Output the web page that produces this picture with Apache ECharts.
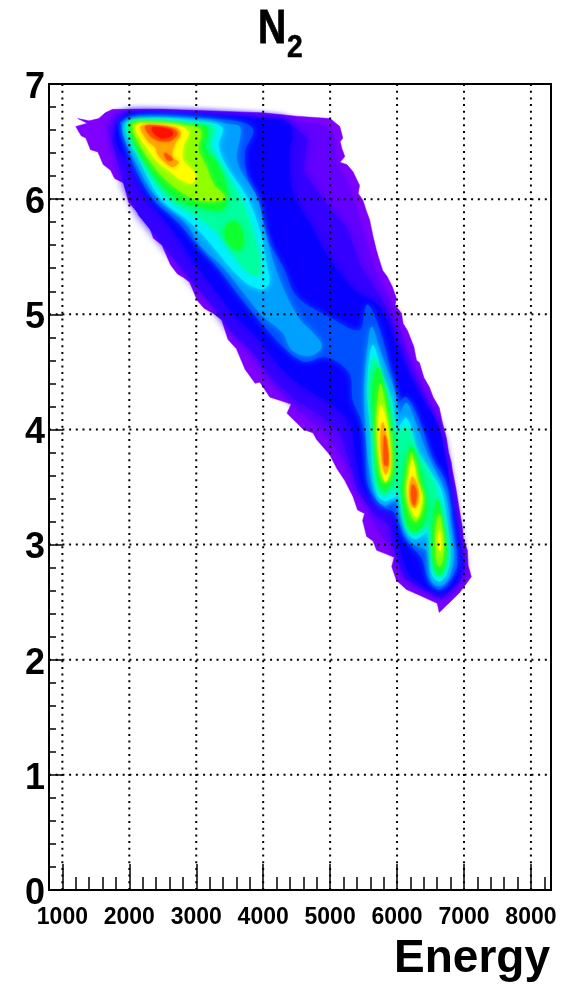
<!DOCTYPE html>
<html><head><meta charset="utf-8">
<style>html,body{margin:0;padding:0;background:#fff}#c{width:570px;height:985px}</style>
<script src="https://cdn.jsdelivr.net/npm/echarts@6/dist/echarts.min.js"></script>
</head><body><div id="c"></div>
<script>
// Tick values
const xMajorTicks=[1000,2000,3000,4000,5000,6000,7000,8000];
const xMinorTicks=[1200,1400,1600,1800,2200,2400,2600,2800,3200,3400,3600,3800,4200,4400,4600,4800,5200,5400,5600,5800,6200,6400,6600,6800,7200,7400,7600,7800,8200];
const yGridValues=[1,2,3,4,5,6];
// Iso-density contours of the histogram, [Energy, N2] outlines, low to high density
const level0=[[[1230,6.70],[1400,6.68],[1543,6.70],[1640,6.75],[1751,6.78],[1990,6.78],[2500,6.78],[3000,6.77],[3500,6.76],[3983,6.75],[4500,6.72],[5000,6.70],[5145,6.63],[5190,6.53],[5150,6.50],[5175,6.44],[5220,6.37],[5145,6.32],[5250,6.30],[5340,6.24],[5440,6.12],[5420,6.05],[5490,5.99],[5540,5.90],[5590,5.82],[5640,5.68],[5690,5.56],[5720,5.50],[5785,5.38],[5850,5.33],[5930,5.24],[5990,5.14],[5970,5.08],[6065,5.01],[6090,4.92],[6155,4.86],[6250,4.72],[6290,4.60],[6335,4.58],[6400,4.45],[6480,4.37],[6540,4.28],[6630,4.19],[6680,4.05],[6735,3.93],[6770,3.80],[6810,3.71],[6825,3.65],[6880,3.48],[6930,3.30],[6975,3.15],[6990,3.05],[7050,2.95],[7060,2.82],[7110,2.72],[6930,2.58],[6630,2.41],[6600,2.49],[6335,2.56],[6140,2.61],[5990,2.69],[5920,2.81],[5960,2.89],[5695,2.95],[5640,3.03],[5545,3.07],[5485,3.21],[5515,3.27],[5410,3.30],[5340,3.42],[5215,3.56],[5100,3.66],[4995,3.78],[4800,3.91],[4745,3.97],[4600,4.00],[4355,4.14],[4420,4.22],[4100,4.28],[3950,4.41],[3880,4.40],[3730,4.52],[3600,4.70],[3475,4.78],[3380,4.95],[3250,5.01],[3120,5.05],[3015,5.12],[2900,5.28],[2810,5.32],[2720,5.35],[2615,5.43],[2490,5.60],[2360,5.66],[2290,5.78],[2210,5.84],[2100,5.90],[1990,5.97],[1915,6.14],[1780,6.18],[1720,6.25],[1610,6.30],[1530,6.41],[1420,6.43],[1350,6.53],[1280,6.55],[1200,6.63],[1370,6.66]]];
const level1=[[[1650,6.63],[1800,6.74],[2000,6.76],[3000,6.75],[4000,6.72],[4900,6.64],[5050,6.55],[5080,6.40],[5100,6.30],[5250,6.15],[5350,6.00],[5480,5.75],[5600,5.50],[5750,5.28],[5950,5.05],[6100,4.75],[6300,4.45],[6450,4.25],[6600,4.00],[6700,3.70],[6830,3.25],[6930,2.95],[7000,2.75],[6900,2.65],[6650,2.52],[6400,2.66],[6200,2.72],[6050,2.85],[6000,3.00],[5800,3.05],[5650,3.20],[5550,3.40],[5400,3.55],[5200,3.75],[4900,3.98],[4700,4.08],[4300,4.30],[4050,4.48],[3800,4.70],[3500,4.95],[3300,5.15],[3000,5.30],[2700,5.60],[2400,5.85],[2200,6.00],[2000,6.25],[1800,6.45]]];
const level1b=[[[1795,6.65],[1990,6.75],[3000,6.74],[4000,6.71],[4295,6.70],[4655,6.53],[4595,6.24],[4950,5.95],[5250,5.75],[5440,5.43],[5785,5.11],[5960,4.86],[6185,4.52],[6410,4.26],[6660,3.91],[6765,3.56],[6900,3.17],[7005,2.82],[6930,2.68],[6675,2.54],[6410,2.61],[6110,2.71],[5935,3.00],[5890,3.17],[5665,3.26],[5410,3.47],[5290,3.73],[5145,3.98],[4845,4.13],[4470,4.26],[4130,4.45],[3880,4.65],[3505,4.86],[3180,5.12],[2985,5.25],[2690,5.47],[2435,5.65],[2140,5.86],[1945,6.08],[1840,6.30],[1750,6.51]]];
const level2=[[[1825,6.64],[1990,6.74],[3000,6.73],[3985,6.69],[4400,6.64],[4380,6.34],[4445,6.04],[4700,5.78],[4950,5.51],[5220,5.30],[5440,5.17],[5665,5.10],[5845,4.95],[5990,4.73],[6290,4.34],[6590,4.06],[6735,3.71],[6780,3.53],[6885,3.15],[6930,2.84],[6885,2.69],[6675,2.58],[6440,2.63],[6185,2.75],[6005,3.07],[5960,3.24],[5845,3.32],[5545,3.45],[5410,3.69],[5290,4.06],[4995,4.23],[4740,4.32],[4400,4.46],[4100,4.66],[3910,4.80],[3550,5.01],[3315,5.19],[3015,5.41],[2810,5.60],[2540,5.82],[2240,6.04],[2020,6.32],[1825,6.47]]];
const level3=[[[1870,6.67],[2165,6.71],[3060,6.70],[3655,6.67],[3850,6.60],[3720,6.40],[3805,6.08],[4000,5.71],[4295,5.41],[4505,5.15],[5000,4.97],[5440,4.86],[5545,5.08],[5620,5.04],[5785,4.78],[5930,4.43],[6005,4.23],[6140,4.28],[6380,4.00],[6515,3.76],[6735,3.53],[6825,3.15],[6900,2.84],[6810,2.71],[6630,2.61],[6480,2.69],[6380,2.87],[6260,2.96],[6110,3.07],[6035,3.19],[5960,3.28],[5815,3.32],[5620,3.45],[5545,3.59],[5545,3.91],[5470,4.08],[5340,4.26],[5290,4.49],[4950,4.63],[4620,4.59],[4355,4.69],[4100,4.84],[3655,5.15],[3315,5.41],[2955,5.65],[2690,5.82],[2345,6.01],[2050,6.32],[1900,6.62]]];
const level4=[[[1900,6.64],[2165,6.70],[3060,6.69],[3480,6.65],[3655,6.62],[3610,6.32],[3910,6.01],[4030,5.71],[4175,5.41],[4355,5.15],[4550,4.95],[4740,4.84],[4875,4.72],[4695,4.64],[4430,4.69],[4295,4.84],[3985,4.99],[3760,5.15],[3400,5.41],[3060,5.60],[2840,5.80],[2420,6.01],[2095,6.32]],
[[5620,4.89],[5740,4.69],[5960,4.34],[6035,4.13],[6140,4.23],[6290,4.04],[6455,3.78],[6705,3.47],[6795,3.17],[6840,2.87],[6750,2.69],[6630,2.64],[6510,2.69],[6455,2.94],[6380,2.97],[6260,3.00],[6140,3.08],[6050,3.26],[6005,3.39],[5915,3.37],[5815,3.34],[5695,3.40],[5590,3.65],[5530,4.00],[5515,4.34],[5560,4.69]]];
const level5=[[[1945,6.64],[2240,6.70],[3060,6.67],[3390,6.62],[3330,6.47],[3435,6.30],[3760,6.01],[3955,5.71],[4040,5.45],[4090,5.28],[4000,5.22],[3860,5.24],[3730,5.28],[3505,5.41],[3165,5.65],[2910,5.80],[2465,6.01],[2170,6.32]],
[[5635,4.73],[5785,4.47],[5920,4.26],[6005,4.01],[6140,4.10],[6305,3.82],[6480,3.65],[6660,3.47],[6750,3.17],[6795,2.91],[6735,2.74],[6630,2.68],[6525,2.74],[6495,2.95],[6455,3.11],[6380,3.08],[6260,3.05],[6155,3.11],[6080,3.26],[6020,3.42],[5915,3.40],[5815,3.38],[5710,3.43],[5635,3.67],[5605,4.00],[5560,4.34]]];
const level6=[[[1975,6.65],[2240,6.68],[2985,6.65],[3270,6.62],[3210,6.47],[3360,6.30],[3655,6.01],[3850,5.71],[3940,5.48],[3930,5.34],[3800,5.36],[3655,5.44],[3315,5.71],[2985,5.86],[2585,6.01],[2215,6.32]],
[[5650,4.63],[5785,4.39],[5890,4.21],[5975,3.95],[6140,4.02],[6305,3.78],[6515,3.58],[6600,3.45],[6690,3.17],[6750,2.91],[6705,2.78],[6630,2.72],[6555,2.78],[6525,2.95],[6480,3.17],[6365,3.13],[6260,3.09],[6170,3.14],[6110,3.26],[6035,3.47],[5915,3.47],[5815,3.43],[5725,3.47],[5665,3.67],[5635,4.00],[5590,4.34]]];
const level7=[[[2005,6.64],[2315,6.67],[2910,6.64],[3165,6.62],[3135,6.44],[3315,6.30],[3465,6.04],[3390,5.91],[3135,5.92],[2690,6.01],[2240,6.32]],
[[3465,5.78],[3595,5.80],[3700,5.69],[3655,5.56],[3505,5.60],[3430,5.69]],
[[5710,4.54],[5800,4.39],[5875,4.17],[5935,3.91],[5950,3.65],[5890,3.52],[5815,3.47],[5740,3.52],[5695,3.67],[5665,4.00],[5635,4.34]],
[[6215,3.85],[6335,3.65],[6410,3.47],[6440,3.30],[6380,3.17],[6260,3.11],[6155,3.17],[6095,3.34],[6080,3.47],[6125,3.69]],
[[6600,3.39],[6675,3.21],[6735,2.95],[6705,2.82],[6630,2.74],[6555,2.82],[6525,2.95],[6540,3.21]]];
const level8=[[[2050,6.64],[2315,6.66],[2835,6.64],[3060,6.60],[3030,6.43],[3135,6.30],[3255,6.13],[3430,6.01],[3060,5.99],[2735,6.08],[2345,6.30]],
[[5755,4.39],[5830,4.17],[5890,3.91],[5905,3.65],[5830,3.54],[5755,3.65],[5695,4.00],[5710,4.21]],
[[6215,3.80],[6305,3.56],[6380,3.43],[6365,3.30],[6275,3.20],[6185,3.30],[6140,3.47],[6170,3.65]],
[[6630,3.26],[6690,3.04],[6675,2.87],[6630,2.81],[6585,2.91],[6585,3.13]]];
const level9=[[[2095,6.63],[2315,6.65],[2735,6.63],[2885,6.58],[2810,6.47],[2795,6.34],[2855,6.30],[2985,6.21],[2940,6.14],[2765,6.17],[2615,6.24],[2435,6.32],[2270,6.44]],
[[5755,4.21],[5830,4.08],[5890,3.86],[5890,3.65],[5830,3.55],[5770,3.65],[5725,3.91]],
[[6230,3.73],[6305,3.52],[6365,3.43],[6350,3.34],[6290,3.24],[6200,3.34],[6155,3.47],[6185,3.60]],
[[6630,3.13],[6660,3.00],[6645,2.94],[6615,3.00]]];
const level10=[[[2170,6.63],[2315,6.64],[2690,6.62],[2765,6.57],[2690,6.49],[2645,6.43],[2645,6.36],[2735,6.32],[2645,6.28],[2540,6.32],[2435,6.38],[2390,6.45],[2270,6.51]],
[[5785,4.06],[5845,3.91],[5875,3.69],[5830,3.61],[5785,3.69],[5755,3.91]],
[[6230,3.59],[6320,3.46],[6275,3.32],[6215,3.34],[6185,3.47]]];
const level11=[[[2240,6.63],[2345,6.64],[2645,6.61],[2720,6.57],[2615,6.51],[2435,6.51],[2300,6.56]],
[[2525,6.40],[2610,6.37],[2645,6.34],[2570,6.34]],
[[5815,3.95],[5860,3.82],[5860,3.69],[5815,3.69],[5800,3.82]],
[[6230,3.52],[6290,3.46],[6260,3.34],[6215,3.40]]];
const level12=[[[2345,6.62],[2615,6.60],[2645,6.56],[2510,6.53],[2390,6.56]]];
const contourLevels=[level0,level1,level1b,level2,level3,level4,level5,level6,level7,level8,level9,level10,level11,level12];
const palette=['#7f00ff','#6400ff','#3500ff','#0800ff','#0050ff','#00a0ff','#00f0ff','#00ffa0','#10ff30','#90ff00','#ffff00','#ffa800','#ff5000','#ff1000'];
const softness=[0,7,8,8,7,7,6,6,6,5,5,4,3,3];

const polygons=[];
contourLevels.forEach((lv,i)=>lv.forEach(p=>polygons.push({lv:i,pts:p})));
const FONT='"Liberation Sans",Arial,sans-serif';
const chart=echarts.init(document.getElementById('c'),null,{renderer:'canvas'});
const gridLines=xMajorTicks.map(v=>({d:'x',v})).concat(yGridValues.map(v=>({d:'y',v})));
chart.setOption({
  animation:false,
  backgroundColor:'#fff',
  grid:{left:49,right:19,top:84,bottom:95,show:true,borderColor:'#000',borderWidth:2,backgroundColor:'#fff'},
  xAxis:[
    {type:'value',min:800,max:8300,position:'bottom',splitLine:{show:false},
     axisLine:{show:true,onZero:false,lineStyle:{color:'#000',width:2}},
     axisTick:{show:true,inside:true,length:26,customValues:xMajorTicks,lineStyle:{color:'#000',width:1.5}},
     axisLabel:{show:true,customValues:xMajorTicks,margin:16,color:'#000',fontFamily:FONT,fontWeight:'bold',fontSize:23,formatter:v=>String(v),hideOverlap:false}},
    {type:'value',min:800,max:8300,position:'bottom',splitLine:{show:false},
     axisLine:{show:false},
     axisTick:{show:true,inside:true,length:13,customValues:xMinorTicks,lineStyle:{color:'#000',width:1.5}},
     axisLabel:{show:false}}
  ],
  yAxis:{type:'value',min:0,max:7,interval:1,splitLine:{show:false},
    axisLine:{show:true,onZero:false,lineStyle:{color:'#000',width:2}},
    axisTick:{show:true,inside:true,length:14,lineStyle:{color:'#000',width:1.5}},
    minorTick:{show:true,splitNumber:5,length:7,lineStyle:{color:'#000',width:1.5}},
    axisLabel:{margin:4,color:'#000',fontFamily:FONT,fontWeight:'bold',fontSize:36,verticalAlign:'top',lineHeight:8}},
  series:[
    {type:'custom',coordinateSystem:'cartesian2d',xAxisIndex:0,yAxisIndex:0,silent:true,z:2,clip:true,
     data:polygons.map((p,i)=>[i]),
     renderItem:(params,api)=>{
       const p=polygons[params.dataIndex];
       return {type:'polygon',shape:{points:p.pts.map(q=>api.coord(q)),smooth:p.lv>=3?0.35:0},
         style:{fill:palette[p.lv],stroke:palette[p.lv],lineWidth:0.5,shadowBlur:softness[p.lv],shadowColor:palette[p.lv]}};
     }},
    {type:'custom',coordinateSystem:'cartesian2d',xAxisIndex:0,yAxisIndex:0,silent:true,z:3,
     data:gridLines.map((g,i)=>[i]),
     renderItem:(params,api)=>{
       const g=gridLines[params.dataIndex];
       const a=g.d==='x'?api.coord([g.v,0]):api.coord([800,g.v]);
       const b=g.d==='x'?api.coord([g.v,7]):api.coord([8300,g.v]);
       return {type:'line',shape:{x1:a[0],y1:a[1],x2:b[0],y2:b[1]},style:{stroke:'#000',lineWidth:2,lineDash:[2,4.7]}};
     }}
  ],
  graphic:[
    {type:'text',x:258,y:29,scaleX:0.8,style:{text:'N',font:'bold 49px '+FONT,fill:'#000',verticalAlign:'middle',stroke:'#000',lineWidth:0.8}},
    {type:'text',x:287,y:48,scaleX:0.88,style:{text:'2',font:'bold 32px '+FONT,fill:'#000',verticalAlign:'middle',stroke:'#000',lineWidth:0.6}},
    {type:'text',right:20,top:936,style:{text:'Energy',font:'bold 46px '+FONT,fill:'#000'}}
  ]
});
</script></body></html>
